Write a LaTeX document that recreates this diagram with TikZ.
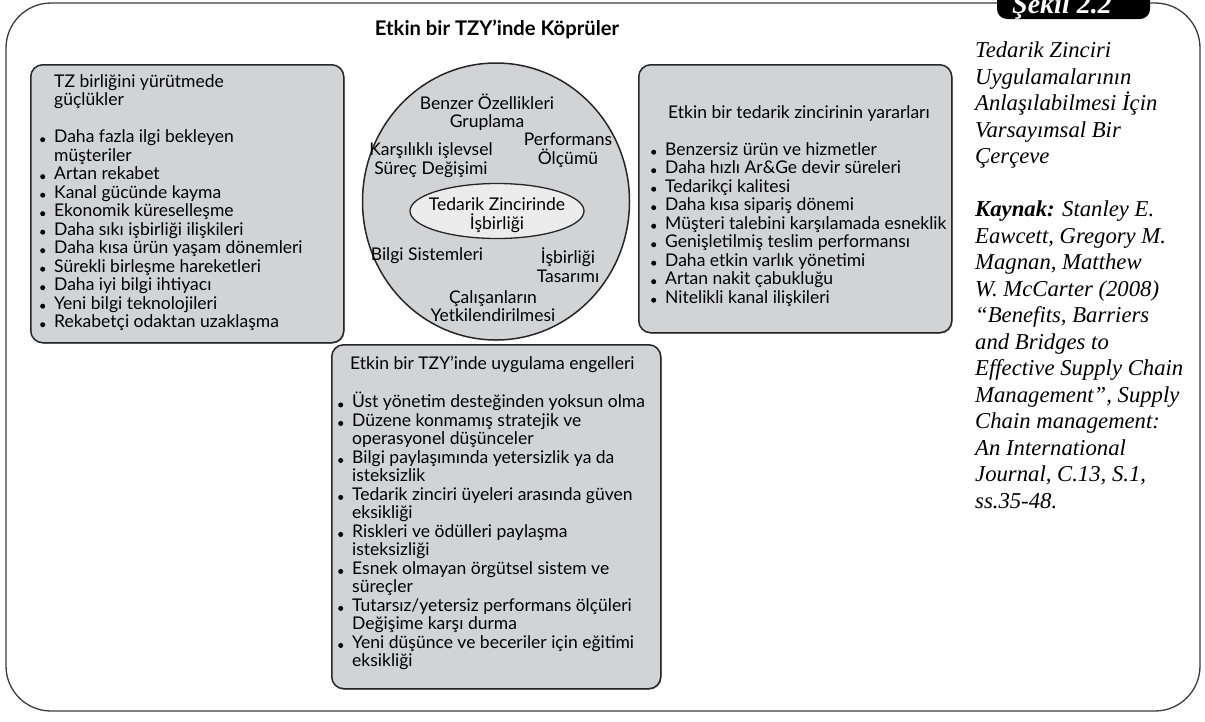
\documentclass[tikz,border=0pt]{standalone}
\usepackage{fontspec}
\usepackage{tikz}
\usetikzlibrary{positioning,shapes.geometric,shadows}
\newfontfamily\gill{Lato}
\newfontfamily\tzserif{Liberation Serif}
\definecolor{boxgray}{RGB}{210,211,212}
\definecolor{ovalgray}{RGB}{236,236,237}
\definecolor{framegray}{RGB}{60,60,60}
% bullet and indent for the lists
\newcommand{\tzb}{\makebox[14pt][l]{\raisebox{0.4pt}{\tikz\fill (0pt,0pt) circle[radius=2.5pt];}}}
\newcommand{\tzi}{\hspace*{14pt}}
\tikzset{
  tzbox/.style={draw=black!85, line width=1.5pt, fill=boxgray, rounded corners=12pt,
    drop shadow={shadow xshift=1pt, shadow yshift=-1pt, fill=black!55}},
  listtext/.style={font=\gill\fontsize{17.5}{18.5}\selectfont, align=left, inner sep=0pt},
  ctext/.style={font=\gill\fontsize{17.5}{18.5}\selectfont, align=center, inner sep=0pt},
}
\begin{document}
\begin{tikzpicture}[x=1pt,y=-1pt]
  \useasboundingbox (0,0) rectangle (1205,721);
  % outer frame and tab
  \draw[framegray, line width=1.3pt, rounded corners=45pt] (6,3) rectangle (1200,711);
  \fill[black, rounded corners=10pt] (997,-14) rectangle (1150,19);
  \node[anchor=base, text=white, inner sep=0pt,
    font=\tzserif\bfseries\itshape\fontsize{28}{30}\selectfont] (sekil) at (1062,13) {Şekil 2.2};
  \node[anchor=base, inner sep=0pt, font=\gill\bfseries\fontsize{20.2}{22}\selectfont] (title) at (497,35)
    {Etkin bir TZY’inde Köprüler};

  % left box
  \node[tzbox, minimum width=313pt, minimum height=278pt, anchor=north west] (gucluk) at (30,64) {};
  \node[listtext, anchor=north west] (guclukText) at (40,74)
    {\tzi TZ birliğini yürütmede\\ \tzi güçlükler\\[18.5pt]
     \tzb Daha fazla ilgi bekleyen\\ \tzi müşteriler\\
     \tzb Artan rekabet\\
     \tzb Kanal gücünde kayma\\
     \tzb Ekonomik küreselleşme\\
     \tzb Daha sıkı işbirliği ilişkileri\\
     \tzb Daha kısa ürün yaşam dönemleri\\
     \tzb Sürekli birleşme hareketleri\\
     \tzb Daha iyi bilgi ihtiyacı\\
     \tzb Yeni bilgi teknolojileri\\
     \tzb Rekabetçi odaktan uzaklaşma};

  % right box
  \node[tzbox, minimum width=313pt, minimum height=268pt, anchor=north west] (yarar) at (638,64) {};
  \node[listtext, anchor=north west] (yararText) at (651,105)
    {\hspace*{17pt}Etkin bir tedarik zincirinin yararları\\[18.5pt]
     \tzb Benzersiz ürün ve hizmetler\\
     \tzb Daha hızlı Ar\&Ge devir süreleri\\
     \tzb Tedarikçi kalitesi\\
     \tzb Daha kısa sipariş dönemi\\
     \tzb Müşteri talebini karşılamada esneklik\\
     \tzb Genişletilmiş teslim performansı\\
     \tzb Daha etkin varlık yönetimi\\
     \tzb Artan nakit çabukluğu\\
     \tzb Nitelikli kanal ilişkileri};

  % bottom box
  \node[tzbox, minimum width=329pt, minimum height=344pt, anchor=north west] (engel) at (331,344) {};
  \node[listtext, anchor=north west] (engelText) at (338,356)
    {\hspace*{12pt}Etkin bir TZY’inde uygulama engelleri\\[18.5pt]
     \tzb Üst yönetim desteğinden yoksun olma\\
     \tzb Düzene konmamış stratejik ve\\ \tzi operasyonel düşünceler\\
     \tzb Bilgi paylaşımında yetersizlik ya da\\ \tzi isteksizlik\\
     \tzb Tedarik zinciri üyeleri arasında güven\\ \tzi eksikliği\\
     \tzb Riskleri ve ödülleri paylaşma\\ \tzi isteksizliği\\
     \tzb Esnek olmayan örgütsel sistem ve\\ \tzi süreçler\\
     \tzb Tutarsız/yetersiz performans ölçüleri\\ \tzi Değişime karşı durma\\
     \tzb Yeni düşünce ve beceriler için eğitimi\\ \tzi eksikliği};

  % bridges circle
  \node[ellipse, draw=black!85, line width=1.5pt, fill=boxgray, minimum width=267pt, minimum height=277pt]
    (kopru) at (496,201.5) {};
  \node[ellipse, draw=black!85, line width=1.3pt, fill=ovalgray, minimum width=174pt, minimum height=55pt]
    (isbirligi) at (497,211) {};
  \node[ctext] (isbirligiText) at (isbirligi) [yshift=-4pt] {Tedarik Zincirinde\\İşbirliği};
  \node[ctext] (benzer) at (487,112) {Benzer Özellikleri\\Gruplama};
  \node[ctext] (surec) at (431,160) {Karşılıklı işlevsel\\Süreç Değişimi};
  \node[ctext] (olcum) at (568,150) {Performans\\Ölçümü};
  \node[ctext] (bilgi) at (427,256) {Bilgi Sistemleri};
  \node[ctext] (tasarim) at (568,265) {İşbirliği\\Tasarımı};
  \node[ctext] (calisan) at (493,306) {Çalışanların\\Yetkilendirilmesi};

  % caption at the right
  \node[anchor=north west, align=left, inner sep=0pt,
    font=\tzserif\itshape\fontsize{22.7}{26.5}\selectfont] (kaynak) at (975,42)
    {Tedarik Zinciri\\ Uygulamalarının\\ Anlaşılabilmesi İçin\\ Varsayımsal Bir\\ Çerçeve\\[26.5pt]
     \textbf{Kaynak:} Stanley E.\\ Eawcett, Gregory M.\\ Magnan, Matthew\\ W. McCarter (2008)\\
     “Benefits, Barriers\\ and Bridges to\\ Effective Supply Chain\\ Management”, Supply\\
     Chain management:\\ An International\\ Journal, C.13, S.1,\\ ss.35-48.};
\end{tikzpicture}
\end{document}
